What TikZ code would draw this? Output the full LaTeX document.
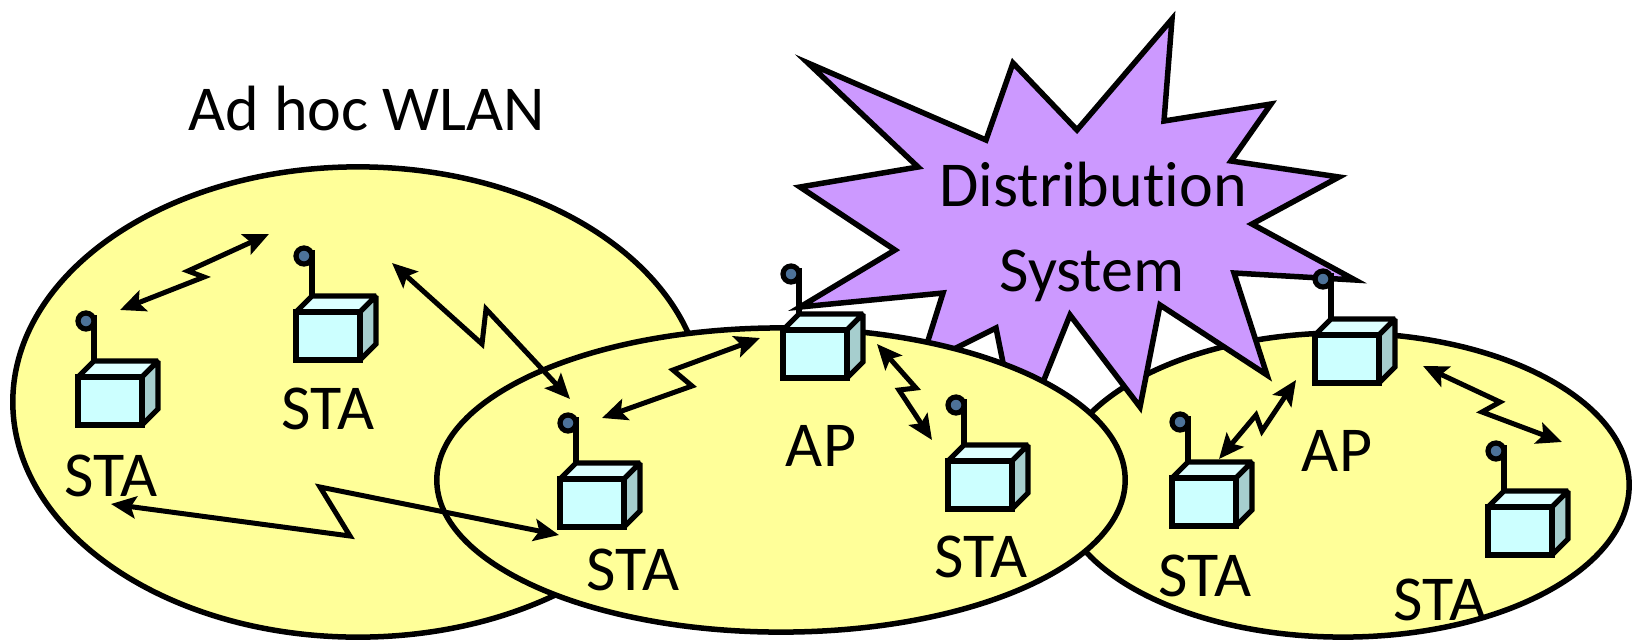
\documentclass[tikz,border=0pt]{standalone}
\usepackage{fontspec}
\setmainfont[Ligatures=NoCommon]{Carlito}
\usetikzlibrary{arrows.meta}

\definecolor{cellyellow}{HTML}{FFFF99}
\definecolor{cloudpurple}{HTML}{CC99FF}
\definecolor{boxfront}{HTML}{CCFFFF}
\definecolor{boxtop}{HTML}{DDFFFF}
\definecolor{boxside}{HTML}{A6CECE}
\definecolor{antennatip}{HTML}{4D7299}

\begin{document}
\begin{tikzpicture}[
    x=0.01cm, y=-0.01cm,
    % Cells, radio links and labels
    cell/.style={draw=black, fill=cellyellow, line width=0.055cm},
    cloud/.style={draw=black, fill=cloudpurple, line width=0.055cm, miter limit=20},
    wire/.style={draw=black, line width=0.052cm, miter limit=2},
    link/.style={draw=black, line width=0.05cm, {Stealth[length=0.25cm, width=0.22cm, inset=0.05cm]}-{Stealth[length=0.25cm, width=0.22cm, inset=0.05cm]}},
    tag/.style={inner sep=0pt, text depth=0pt, font=\fontsize{18.2}{22}\selectfont},
    % Radio station: origin is the top left corner of the front face
    device/.pic={
        \draw [wire] (16, -15) -- (16, -62);
        \filldraw [wire, fill=antennatip] (8, -56) circle (0.08cm);
        \filldraw [wire, fill=boxtop] (0, 0) -- (16, -16) -- (80, -16) -- (64, 0) -- cycle;
        \filldraw [wire, fill=boxside] (64, 0) -- (80, -16) -- (80, 32) -- (64, 48) -- cycle;
        \filldraw [wire, fill=boxfront] (0, 0) rectangle (64, 48);
    }
]

    \useasboundingbox (0, 0) rectangle (1633, 639);

    % Cells and distribution system

    \filldraw [cell] (1343, 485) ellipse (2.86cm and 1.52cm);

    \filldraw [cloud] (808, 63) -- (986, 140) -- (1013, 63) -- (1077, 130)
        -- (1172, 19) -- (1164, 121) -- (1271, 104) -- (1231, 161)
        -- (1339, 177) -- (1252, 224) -- (1355, 280) -- (1234, 273)
        -- (1267, 375) -- (1160, 305) -- (1140, 407) -- (1070, 315)
        -- (1019, 442) -- (996, 328) -- (920, 366) -- (943, 293)
        -- (800, 307) -- (895, 250) -- (800, 187) -- (918, 167) -- cycle;

    \filldraw [cell] (358, 402) ellipse (3.45cm and 2.35cm);
    \filldraw [cell] (781, 480) ellipse (3.44cm and 1.52cm);

    % Stations

    \pic (staA) at (78, 377) {device};
    \pic (staB) at (296, 312) {device};
    \pic (staC) at (560, 479) {device};
    \pic (apL) at (783, 330) {device};
    \pic (staD) at (948, 461) {device};
    \pic (staE) at (1172, 478) {device};
    \pic (apR) at (1315, 335) {device};
    \pic (staF) at (1488, 507) {device};

    % Labels

    \node [tag] (adhoc) at (367, 108) {Ad hoc WLAN};
    \node [tag] (distA) at (1093, 184) {Distribution};
    \node [tag] (distB) at (1092, 271) {System};
    \node [tag] (labelA) at (111, 476) {STA};
    \node [tag] (labelB) at (328, 409) {STA};
    \node [tag] (labelC) at (633, 570) {STA};
    \node [tag] (labelD) at (981, 557) {STA};
    \node [tag] (labelE) at (1205, 576) {STA};
    \node [tag] (labelF) at (1440, 600) {STA};
    \node [tag] (labelL) at (821, 446) {AP};
    \node [tag] (labelR) at (1337, 451) {AP};

    % Radio links

    %% End points and bends
    \coordinate (AB1) at (120, 310);
    \coordinate (AB2) at (204, 277);
    \coordinate (AB3) at (188, 271);
    \coordinate (AB4) at (269, 234);

    \coordinate (BC1) at (392, 263);
    \coordinate (BC2) at (482, 344);
    \coordinate (BC3) at (486, 309);
    \coordinate (BC4) at (570, 399);

    \coordinate (AC1) at (111, 504);
    \coordinate (AC2) at (350, 536);
    \coordinate (AC3) at (320, 487);
    \coordinate (AC4) at (559, 535);

    \coordinate (CL1) at (602, 418);
    \coordinate (CL2) at (692, 386);
    \coordinate (CL3) at (673, 370);
    \coordinate (CL4) at (760, 338);

    \coordinate (LD1) at (877, 344);
    \coordinate (LD2) at (916, 388);
    \coordinate (LD3) at (899, 390);
    \coordinate (LD4) at (932, 440);

    \coordinate (ER1) at (1219, 459);
    \coordinate (ER2) at (1256, 415);
    \coordinate (ER3) at (1262, 431);
    \coordinate (ER4) at (1296, 380);

    \coordinate (RF1) at (1423, 366);
    \coordinate (RF2) at (1500, 402);
    \coordinate (RF3) at (1482, 412);
    \coordinate (RF4) at (1562, 442);

    %% Connect them
    \draw [link] (AB1) -- (AB2) -- (AB3) -- (AB4);
    \draw [link] (BC1) -- (BC2) -- (BC3) -- (BC4);
    \draw [link] (AC1) -- (AC2) -- (AC3) -- (AC4);
    \draw [link] (CL1) -- (CL2) -- (CL3) -- (CL4);
    \draw [link] (LD1) -- (LD2) -- (LD3) -- (LD4);
    \draw [link] (ER1) -- (ER2) -- (ER3) -- (ER4);
    \draw [link] (RF1) -- (RF2) -- (RF3) -- (RF4);

\end{tikzpicture}
\end{document}
